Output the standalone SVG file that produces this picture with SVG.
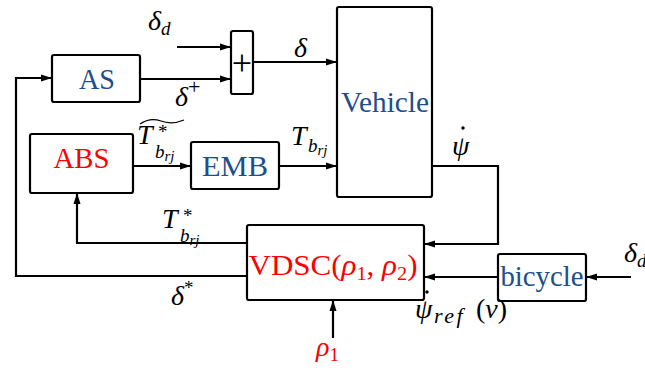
<svg xmlns="http://www.w3.org/2000/svg" width="645" height="370" viewBox="0 0 645 370">
<defs>
<marker id="ar" markerUnits="userSpaceOnUse" markerWidth="12" markerHeight="10" refX="11" refY="5" orient="auto">
<path d="M0,1.5 L11,5 L0,8.5 Z" fill="#000"/>
</marker>
<style>
.box{fill:#fff;stroke:#000;stroke-width:2.2}
.ln{fill:none;stroke:#000;stroke-width:2.2;marker-end:url(#ar)}
.lb{font-family:"Liberation Serif","DejaVu Serif",serif;font-size:29px;text-anchor:middle}
.blue{fill:#1d4f8c}
.red{fill:#ff0000}
.m{font-family:"Liberation Serif","DejaVu Serif",serif;font-style:italic;font-size:28px;fill:#000}
.s{font-size:19px}
.ss{font-size:15px}
.up{font-style:normal}
</style>
</defs>
<rect width="645" height="370" fill="#fff"/>
<g id="connectors">
<path class="ln" d="M177,47 H231"/>
<path class="ln" d="M140,79 H231"/>
<path class="ln" d="M253,62 H337"/>
<path class="ln" d="M133,166 H191"/>
<path class="ln" d="M279,166 H337"/>
<path class="ln" d="M432,166 H498 V244 H424"/>
<path class="ln" d="M498,277 H424"/>
<path class="ln" d="M631,277 H586"/>
<path class="ln" d="M333,338 V300"/>
<path class="ln" d="M247,243 H77 V193"/>
<path class="ln" d="M247,276 H16 V78 H52"/>
</g>
<g id="AS"><rect class="box" x="52" y="55" width="88" height="47" rx="2"/><text class="lb blue" x="97" y="89" textLength="36" lengthAdjust="spacingAndGlyphs">AS</text></g>
<g id="sum"><rect class="box" x="231" y="31" width="22" height="63" rx="2"/><text class="lb" x="242" y="75" style="font-size:36px">+</text></g>
<g id="Vehicle"><rect class="box" x="337" y="7" width="95" height="190" rx="2"/><text class="lb blue" x="385" y="112" textLength="88" lengthAdjust="spacingAndGlyphs">Vehicle</text></g>
<g id="ABS"><rect class="box" x="30" y="134" width="103" height="59" rx="2"/><text class="lb red" x="81.5" y="168" textLength="56" lengthAdjust="spacingAndGlyphs">ABS</text></g>
<g id="EMB"><rect class="box" x="191" y="142" width="88" height="47" rx="2"/><text class="lb blue" x="235" y="176" textLength="66" lengthAdjust="spacingAndGlyphs">EMB</text></g>
<g id="VDSC"><rect class="box" x="247" y="225" width="177" height="75" rx="2"/><text class="lb red" x="333" y="275" textLength="169" lengthAdjust="spacingAndGlyphs">VDSC(<tspan font-style="italic">ρ</tspan><tspan font-size="19px" dy="5">1</tspan><tspan dy="-5">, </tspan><tspan font-style="italic">ρ</tspan><tspan font-size="19px" dy="5">2</tspan><tspan dy="-5">)</tspan></text></g>
<g id="bicycle"><rect class="box" x="498" y="254" width="88" height="47" rx="2"/><text class="lb blue" x="542" y="286" textLength="83" lengthAdjust="spacingAndGlyphs">bicycle</text></g>
<g id="labels">
<text class="m" x="148" y="30">δ<tspan class="s" dy="5">d</tspan></text>
<text class="m" x="294" y="57">δ</text>
<text class="m" x="175" y="106">δ<tspan class="up" font-size="22px" dy="-12">+</tspan></text>
<path d="M140,124 Q150,117 161,121 T184,120" fill="none" stroke="#000" stroke-width="1.2"/>
<text class="m" x="137" y="144">T<tspan class="s up" x="158" dy="-6">*</tspan><tspan class="s" x="155" dy="20">b</tspan><tspan class="ss" dy="3">rj</tspan></text>
<text class="m" x="291" y="145">T<tspan class="s" x="308" dy="7">b</tspan><tspan class="ss" dy="3">rj</tspan></text>
<text class="m" x="452" y="155">ψ</text>
<circle cx="463" cy="128" r="1.7" fill="#000"/>
<text class="m" x="162" y="228">T<tspan class="s up" x="183" dy="-6">*</tspan><tspan class="s" x="180" dy="20">b</tspan><tspan class="ss" dy="3">rj</tspan></text>
<text class="m" x="171" y="305">δ<tspan class="s up" dy="-11">*</tspan></text>
<text class="m" x="415" y="318">ψ<tspan x="434" dy="5" font-size="22px" letter-spacing="2.5">ref</tspan><tspan class="up" x="476" dy="-5">(</tspan>v<tspan class="up">)</tspan></text>
<circle cx="427" cy="292" r="1.7" fill="#000"/>
<text class="m" x="316" y="356" style="fill:#ff0000">ρ<tspan class="s up" dy="5">1</tspan></text>
<text class="m" x="624" y="262">δ<tspan class="s" dy="5">d</tspan></text>
</g>
</svg>
